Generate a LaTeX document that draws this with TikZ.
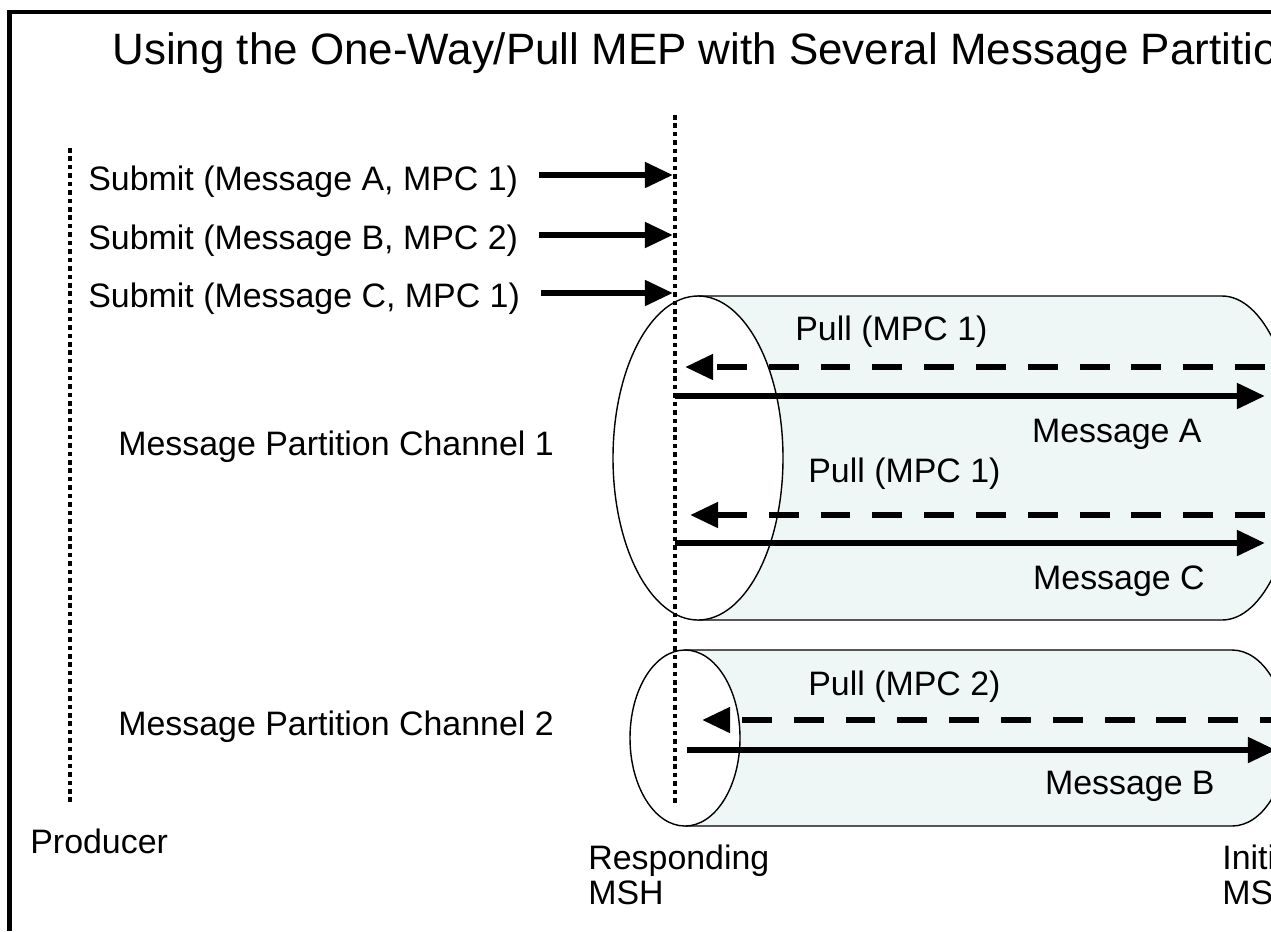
\documentclass[tikz,border=0pt]{standalone}
\usepackage{fontspec}
\setmainfont{Liberation Sans}
\usetikzlibrary{arrows.meta,positioning,calc}
\definecolor{chanfill}{HTML}{EEF6F6}

\begin{document}
\begin{tikzpicture}[x=0.02cm, y=-0.02cm,
      lbl/.style={font=\fontsize{19.3}{19.8}\selectfont, inner sep=0pt, anchor=base west},
      lblr/.style={lbl, anchor=base east},
      arr/.style={-{Triangle[length=16pt, width=14pt]}, line width=3.5pt},
      pullarr/.style={arr, dash pattern=on 17pt off 12.5pt},
      life/.style={line width=2.8pt, dash pattern=on 2.6pt off 2.2pt},
      chan/.style={fill=chanfill, draw=black, line width=0.8pt},
      face/.style={fill=white, draw=black, line width=0.8pt}]
    \useasboundingbox (0,0) rectangle (1271,931);
    \clip (0,0) rectangle (1271,931);
    % frame
    \draw[line width=2.5pt] (9.5,931) -- (9.5,12) -- (1271,12);
    \node[lbl, font=\fontsize{25}{30}\selectfont] (title) at (112,64)
      {Using the One-Way/Pull MEP with Several Message Partition Channels};
    % channel 1
    \path[chan] (698,296) -- (1222,296) arc[start angle=-90, end angle=90, x radius=75, y radius=162]
      -- (698,620) -- cycle;
    \draw[face] (698,458) ellipse[x radius=85, y radius=162];
    % channel 2
    \path[chan] (685,650) -- (1232,650) arc[start angle=-90, end angle=90, x radius=55, y radius=88]
      -- (685,826) -- cycle;
    \draw[face] (685,738) ellipse[x radius=55, y radius=88];
    % lifelines
    \coordinate (prodTop) at (70,148);
    \coordinate (prodBot) at (70,805);
    \coordinate (respTop) at (675,115);
    \coordinate (respBot) at (675,805);
    \draw[life] (prodTop) -- (prodBot);
    \draw[life] (respTop) -- (respBot);
    \node[lbl] (producer) at (30,853) {Producer};
    \node[lbl, align=left, anchor=north west] (resp) at (588,845) {Responding\\MSH};
    \node[lbl, align=left, anchor=north west] (init) at (1222,845) {Initiating\\MSH};
    % submits
    \node[lbl] (subA) at (88,190) {Submit (Message A, MPC 1)};
    \node[lbl] (subB) at (88,249) {Submit (Message B, MPC 2)};
    \node[lbl] (subC) at (88,307) {Submit (Message C, MPC 1)};
    \coordinate (subAin) at (673,175);
    \coordinate (subBin) at (673,235);
    \coordinate (subCin) at (673,293);
    \draw[arr] ([xshift=12pt]subA.east |- subAin) -- (subAin);
    \draw[arr] ([xshift=12pt]subB.east |- subBin) -- (subBin);
    \draw[arr] ([xshift=12pt]subC.east |- subCin) -- (subCin);
    % channel labels
    \node[lbl] (mpcI) at (118,455) {Message Partition Channel 1};
    \node[lbl] (mpcII) at (118,735) {Message Partition Channel 2};
    % channel 1 exchanges
    \node[lbl] (pullA) at (795,340) {Pull (MPC 1)};
    \coordinate (pullAfar) at (1265,367);
    \coordinate (pullAnear) at (685,367);
    \draw[pullarr] (pullAfar) -- (pullAnear);
    \coordinate (msgAnear) at (675,396);
    \coordinate (msgAfar) at (1265,396);
    \draw[arr] (msgAnear) -- (msgAfar);
    \node[lblr] (msgA) at (1202,442) {Message A};
    \node[lbl] (pullC) at (808,482) {Pull (MPC 1)};
    \coordinate (pullCfar) at (1265,515);
    \coordinate (pullCnear) at (690,515);
    \draw[pullarr] (pullCfar) -- (pullCnear);
    \coordinate (msgCnear) at (675,543);
    \coordinate (msgCfar) at (1265,543);
    \draw[arr] (msgCnear) -- (msgCfar);
    \node[lblr] (msgC) at (1205,589) {Message C};
    % channel 2 exchanges
    \node[lbl] (pullB) at (808,695) {Pull (MPC 2)};
    \coordinate (pullBfar) at (1290,720);
    \coordinate (pullBnear) at (702,720);
    \draw[pullarr] (pullBfar) -- (pullBnear);
    \coordinate (msgBnear) at (687,750);
    \coordinate (msgBfar) at (1276,750);
    \draw[arr] (msgBnear) -- (msgBfar);
    \node[lblr] (msgB) at (1215,794) {Message B};
  \end{tikzpicture}
\end{document}
